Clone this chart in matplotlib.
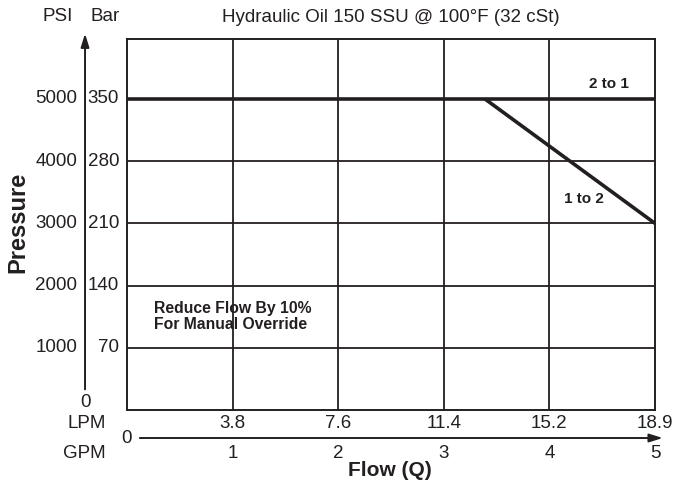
import matplotlib.pyplot as plt

plt.rcParams['font.family'] = ['Liberation Sans', 'DejaVu Sans']

ink = '#231f20'

# axis data
gpm_ticks = [1, 2, 3, 4, 5]
gpm_labels = ['1', '2', '3', '4', '5']
lpm_labels = ['3.8', '7.6', '11.4', '15.2', '18.9']
bar_ticks = [70, 140, 210, 280, 350]
bar_labels = ['70', '140', '210', '280', '350']
psi_labels = ['1000', '2000', '3000', '4000', '5000']

# curves (flow in GPM, pressure in bar)
shift_2to1_x = [0, 5]
shift_2to1_y = [350, 350]
shift_1to2_x = [3.39, 5]
shift_1to2_y = [350, 210]

fs = 13.5

fig = plt.figure(figsize=(6.87, 4.8), dpi=100)
ax = fig.add_axes([127 / 687, 1 - 410 / 480, 528 / 687, 371 / 480])
ax.set_xlim(0, 5)
ax.set_ylim(0, 417.5)
ax.set_xticks([])
ax.set_yticks([])
for s in ax.spines.values():
    s.set_color(ink)
    s.set_linewidth(1.4)

# grid
for g in gpm_ticks[:-1]:
    ax.axvline(g, color=ink, lw=1.3, zorder=1)
for b in bar_ticks:
    ax.axhline(b, color=ink, lw=1.3, zorder=1)

ax.plot(shift_2to1_x, shift_2to1_y, color=ink, lw=2.6, solid_capstyle='butt', zorder=3)
ax.plot(shift_1to2_x, shift_1to2_y, color=ink, lw=2.6, solid_capstyle='butt', zorder=3)

ax.text(4.56, 367, '2 to 1', fontsize=11, fontweight='bold', color=ink, ha='center', va='center')
ax.text(4.33, 237, '1 to 2', fontsize=11, fontweight='bold', color=ink, ha='center', va='center')
ax.text(0.26, 105, 'Reduce Flow By 10%\nFor Manual Override', fontsize=11.3,
        fontweight='bold', color=ink, ha='left', va='center', linespacing=1.05)

# left axis labels
ylab = ax.get_yaxis_transform()
for b, bl, pl in zip(bar_ticks, bar_labels, psi_labels):
    ax.text(-0.015, b, bl, transform=ylab, ha='right', va='center', fontsize=fs, color=ink)
    ax.text(-0.094, b, pl, transform=ylab, ha='right', va='center', fontsize=fs, color=ink)
ax.text(-0.0795, 0.019, '0', transform=ax.transAxes, ha='center', va='center', fontsize=fs, color=ink)
ax.text(-0.131, 1.06, 'PSI', transform=ax.transAxes, ha='center', va='center', fontsize=fs, color=ink)
ax.text(-0.042, 1.06, 'Bar', transform=ax.transAxes, ha='center', va='center', fontsize=fs, color=ink)
ax.annotate('', xy=(-0.0795, 1.022), xytext=(-0.0795, 0.048), xycoords='axes fraction',
            arrowprops=dict(arrowstyle='-|>,head_length=0.8,head_width=0.25', color=ink, lw=1.4))

# bottom axis labels
xlab = ax.get_xaxis_transform()
for g, gl, ll in zip(gpm_ticks, gpm_labels, lpm_labels):
    ax.text(g, -0.037, ll, transform=xlab, ha='center', va='center', fontsize=fs, color=ink)
    ax.text(g, -0.116, gl, transform=xlab, ha='center', va='center', fontsize=fs, color=ink)
ax.text(-0.04, -0.037, 'LPM', transform=ax.transAxes, ha='right', va='center', fontsize=fs, color=ink)
ax.text(-0.04, -0.116, 'GPM', transform=ax.transAxes, ha='right', va='center', fontsize=fs, color=ink)
ax.text(0.0, -0.0755, '0', transform=ax.transAxes, ha='center', va='center', fontsize=fs, color=ink)
ax.annotate('', xy=(1.02, -0.0755), xytext=(0.019, -0.0755), xycoords='axes fraction',
            arrowprops=dict(arrowstyle='-|>,head_length=0.8,head_width=0.25', color=ink, lw=1.4))

ax.text(0.5, 1.057, 'Hydraulic Oil 150 SSU @ 100°F (32 cSt)', transform=ax.transAxes,
        ha='center', va='center', fontsize=fs, color=ink)
ax.text(-0.206, 0.507, 'Pressure', transform=ax.transAxes, rotation=90, ha='center',
        va='center', fontsize=17, fontweight='bold', color=ink)
ax.text(0.498, -0.163, 'Flow (Q)', transform=ax.transAxes, ha='center', va='center',
        fontsize=15, fontweight='bold', color=ink)

fig.savefig('out.png', dpi=100)
